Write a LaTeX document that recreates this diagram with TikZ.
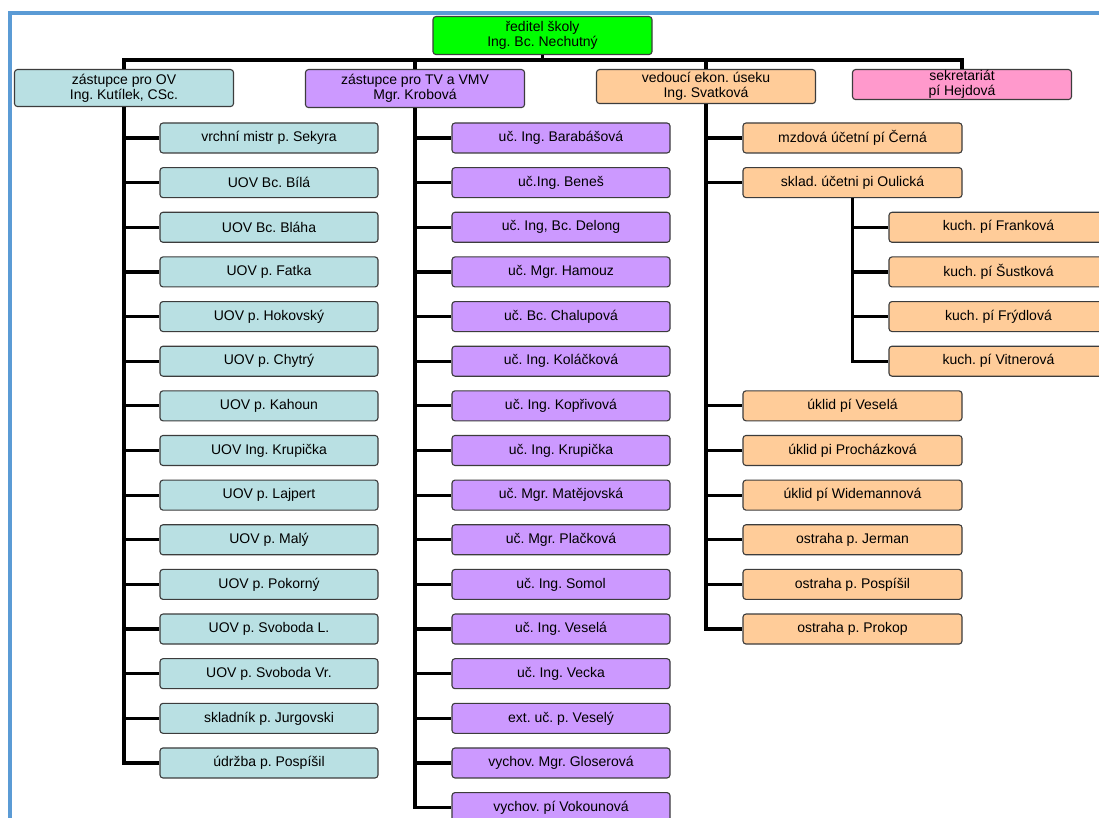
\documentclass[tikz,border=0pt]{standalone}
\usepackage{fontspec}
\setmainfont{Liberation Sans}
\frenchspacing
\definecolor{teal1}{HTML}{B9E0E3}
\definecolor{purp1}{HTML}{CC99FF}
\definecolor{oran1}{HTML}{FFCC99}
\definecolor{pink1}{HTML}{FF99CC}
\definecolor{green1}{HTML}{00FF00}
\definecolor{frameblue}{HTML}{5B9BD5}
\definecolor{edge1}{HTML}{3C3C3C}
\tikzset{
  box/.style={draw=edge1, line width=1.1pt, rounded corners=3pt, rectangle,
    minimum width=219pt, minimum height=30pt, inner sep=0pt, align=center,
    font=\fontsize{14}{15}\selectfont\frenchspacing},
  headbox/.style={box, anchor=north},
  ovbox/.style={box, fill=teal1},
  tvbox/.style={box, fill=purp1},
  ekbox/.style={box, fill=oran1},
  conn/.style={draw=black, line width=3.2pt},
}
\begin{document}
\begin{tikzpicture}[x=1pt, y=-1pt]
\clip (0,0) rectangle (1099,818);
\fill[white] (0,0) rectangle (1099,818);
\draw[frameblue, line width=3.5pt] (10,820) -- (10,13) -- (1101,13);

\coordinate (barY) at (0,60);
% top
\node[headbox, fill=green1, minimum height=38pt] (dir) at (542.5,16) {ředitel školy\\Ing. Bc. Nechutný};
\node[headbox, fill=teal1, minimum height=37pt] (ov) at (124,69) {zástupce pro OV\\Ing. Kutílek, CSc.};
\node[headbox, fill=purp1, minimum height=38pt] (tv) at (415,69) {zástupce pro TV a VMV\\Mgr. Krobová};
\node[headbox, fill=oran1, minimum height=34pt] (ek) at (706,69) {vedoucí ekon. úseku\\Ing. Svatková};
\node[headbox, fill=pink1, minimum height=30pt] (sek) at (962,69) {sekretariát\\pí Hejdová};

\foreach \n in {ov,tv,ek,sek}{
  \draw[conn] (dir.south) -- (dir.south |- barY) -| (\n.north);
}

% OV column
\foreach \t [count=\i] in {vrchní mistr p. Sekyra, UOV Bc. Bílá, UOV Bc. Bláha, UOV p. Fatka,
  UOV p. Hokovský, UOV p. Chytrý, UOV p. Kahoun, UOV Ing. Krupička, UOV p. Lajpert,
  UOV p. Malý, UOV p. Pokorný, UOV p. Svoboda L., UOV p. Svoboda Vr.,
  skladník p. Jurgovski, údržba p. Pospíšil}{
  \node[ovbox, minimum width=218pt] (ov\i) at (269,{138+(\i-1)*44.64}) {\t};
  \draw[conn] (ov.south) |- (ov\i.west);
}

% TV column
\foreach \t [count=\i] in {uč. Ing. Barabášová, uč.Ing. Beneš, {uč. Ing, Bc. Delong}, uč. Mgr. Hamouz,
  uč. Bc. Chalupová, uč. Ing. Koláčková, uč. Ing. Kopřivová, uč. Ing. Krupička,
  uč. Mgr. Matějovská, uč. Mgr. Plačková, uč. Ing. Somol, uč. Ing. Veselá,
  uč. Ing. Vecka, ext. uč. p. Veselý, vychov. Mgr. Gloserová, vychov. pí Vokounová}{
  \node[tvbox, minimum width=218pt] (tv\i) at (561,{138+(\i-1)*44.64}) {\t};
  \draw[conn] (tv.south) |- (tv\i.west);
}

% Ekon column
\node[ekbox] (ek1) at (852.5,138) {mzdová účetní pí Černá};
\node[ekbox] (ek2) at (852.5,182.6) {sklad. účetni pi Oulická};
\foreach \t [count=\i from 3] in {úklid pí Veselá, úklid pi Procházková, úklid pí Widemannová,
  ostraha p. Jerman, ostraha p. Pospíšil, ostraha p. Prokop}{
  \node[ekbox] (ek\i) at (852.5,{138+(\i+3)*44.64}) {\t};
}
\foreach \i in {1,...,8}{
  \draw[conn] (ek.south) |- (ek\i.west);
}

% kitchen under sklad
\foreach \t [count=\i] in {kuch. pí Franková, kuch. pí Šustková, kuch. pí Frýdlová, kuch. pí Vitnerová}{
  \node[ekbox] (ku\i) at (998.5,{138+(\i+1)*44.64}) {\t};
  \draw[conn] (ek2.south) |- (ku\i.west);
}
\end{tikzpicture}
\end{document}
